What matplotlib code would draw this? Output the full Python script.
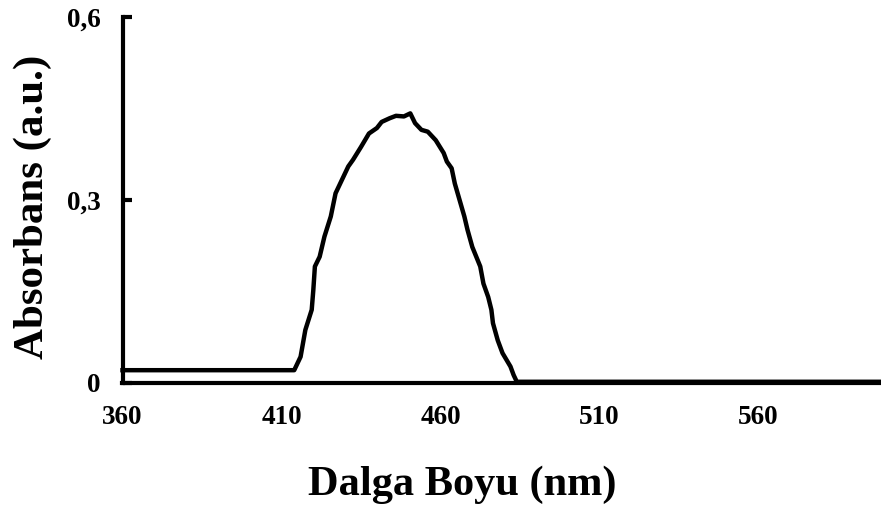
import matplotlib
matplotlib.use("Agg")
import matplotlib.pyplot as plt

# spectrum (nm, absorbance)
wavelength = [360, 414, 416, 417.5, 419.5, 420, 420.5, 422, 423.5, 425.5, 427,
              429, 431, 432.5, 435, 437.5, 440, 441.5, 444, 446, 448.5, 450.5,
              452, 454, 456, 458.5, 461, 462, 463.5, 464.5, 466, 467.5, 468.5,
              470, 472.5, 473.5, 475, 476, 476.5, 478, 479.5, 482, 483, 484, 600]
absorbance = [0.021, 0.021, 0.043, 0.087, 0.120, 0.152, 0.191, 0.207, 0.240,
              0.273, 0.311, 0.333, 0.355, 0.366, 0.387, 0.409, 0.418, 0.428,
              0.434, 0.438, 0.437, 0.442, 0.426, 0.415, 0.412, 0.398, 0.377,
              0.363, 0.352, 0.327, 0.300, 0.273, 0.251, 0.223, 0.191, 0.163,
              0.141, 0.120, 0.098, 0.070, 0.049, 0.027, 0.013, 0.002, 0.002]

x_ticks = [360, 410, 460, 510, 560]
y_ticks = [0, 0.3, 0.6]
y_tick_labels = ["0", "0,3", "0,6"]

W, H = 881, 509
LW = 3.0
FONT = "Liberation Serif"

fig = plt.figure(figsize=(W / 100, H / 100), dpi=100, facecolor="white")
ax = fig.add_axes([122.5 / W, 1 - 383 / H, 763.2 / W, 366 / H])

ax.plot(wavelength, absorbance, color="black", linewidth=3.2,
        solid_joinstyle="round", clip_on=False, zorder=3)

ax.set_xlim(360, 600)
ax.set_ylim(0, 0.6)

for side in ("top", "right"):
    ax.spines[side].set_visible(False)
for side in ("left", "bottom"):
    ax.spines[side].set_linewidth(LW)
    ax.spines[side].set_capstyle("projecting")

ax.set_xticks(x_ticks)
ax.set_xticklabels([str(v) for v in x_ticks], fontfamily=FONT,
                   fontweight="bold", fontsize=19.5)
ax.set_yticks(y_ticks)
ax.set_yticklabels(y_tick_labels, fontfamily=FONT, fontweight="bold",
                   fontsize=19.5)
ax.tick_params(axis="x", length=0, pad=16)
ax.tick_params(axis="y", direction="in", length=6.5, width=LW, pad=16)

fig.text(462 / W, 1 - 495 / H, "Dalga Boyu (nm)", ha="center", va="baseline",
         fontfamily=FONT, fontweight="bold", fontsize=30.5)
fig.text(43 / W, 1 - 207 / H, "Absorbans (a.u.)", ha="center", va="baseline",
         rotation=90, rotation_mode="anchor",
         fontfamily=FONT, fontweight="bold", fontsize=31)

fig.savefig("out.png", dpi=100, facecolor="white")
